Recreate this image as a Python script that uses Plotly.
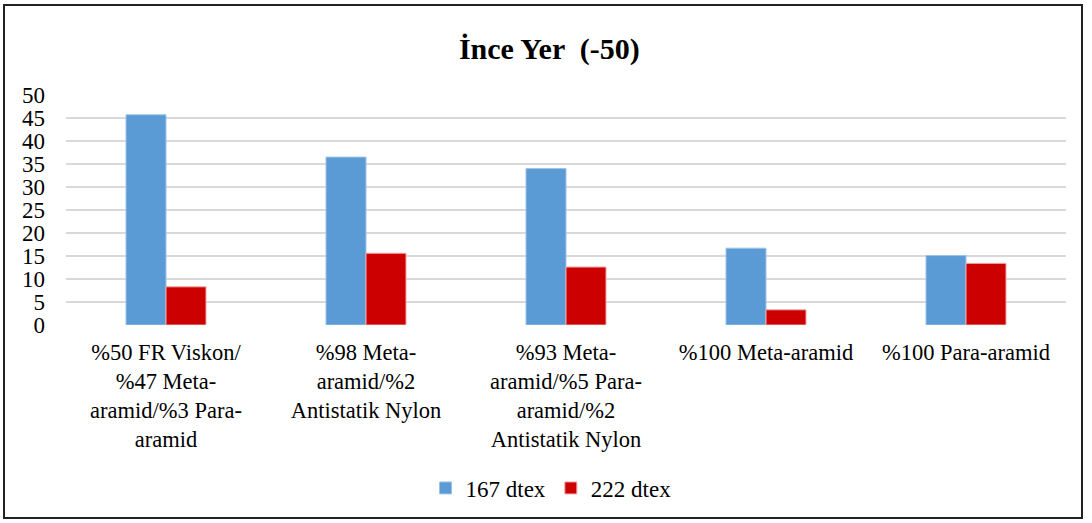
import plotly.graph_objects as go

categories = [
    "%50 FR Viskon/<br>%47 Meta-<br>aramid/%3 Para-<br>aramid",
    "%98 Meta-<br>aramid/%2<br>Antistatik Nylon",
    "%93 Meta-<br>aramid/%5 Para-<br>aramid/%2<br>Antistatik Nylon",
    "%100 Meta-aramid",
    "%100 Para-aramid",
]
series_names = ["167 dtex", "222 dtex"]
values_167 = [45.7, 36.5, 34.0, 16.7, 15.1]
values_222 = [8.3, 15.6, 12.6, 3.3, 13.4]
y_ticks = [0, 5, 10, 15, 20, 25, 30, 35, 40, 45, 50]

FONT = "Liberation Serif"

fig = go.Figure()
fig.add_trace(go.Bar(x=categories, y=values_167, name=series_names[0],
                     marker=dict(color="#5B9BD5", line=dict(color="#9DC3E6", width=1))))
fig.add_trace(go.Bar(x=categories, y=values_222, name=series_names[1],
                     marker=dict(color="#CC0000", line=dict(color="#F4A6A6", width=1))))

W, H = 1092, 523
L, R, T, B = 66, 26, 95, 198
pw, ph = W - L - R, H - T - B

def px_to_paper_x(px):
    return (px - L) / pw

def px_to_paper_y(py):
    return (H - B - py) / ph

fig.update_layout(
    width=W, height=H,
    margin=dict(l=L, r=R, t=T, b=B, autoexpand=False),
    paper_bgcolor="white", plot_bgcolor="white",
    barmode="group", bargap=0.6, bargroupgap=0,
    font=dict(family=FONT, color="#000000", size=22),
    title=dict(text="<b>İnce Yer  (-50)</b>", x=0.503, xanchor="center",
               y=1 - 48 / H, yanchor="middle",
               font=dict(family=FONT, size=30, color="#000000")),
    showlegend=True,
    legend=dict(orientation="h", x=0.485, xanchor="center",
                y=px_to_paper_y(488), yanchor="middle",
                font=dict(family=FONT, size=23, color="#000000"),
                itemwidth=30, tracegroupgap=0),
    xaxis=dict(showgrid=False, showline=False, ticks="",
               tickfont=dict(family=FONT, size=22.5, color="#000000"),
               ticklabelstandoff=11),
    yaxis=dict(range=[0, 50], tickvals=y_ticks, showgrid=True,
               gridcolor="#D9D9D9", gridwidth=1.5, zeroline=False,
               showline=False, ticks="",
               tickfont=dict(family=FONT, size=23, color="#000000"),
               ticklabelstandoff=20),
    shapes=[dict(type="rect", xref="paper", yref="paper",
                 x0=px_to_paper_x(4), x1=px_to_paper_x(1082),
                 y0=px_to_paper_y(518), y1=px_to_paper_y(5),
                 line=dict(color="#222222", width=2), fillcolor="rgba(0,0,0,0)",
                 layer="below")],
)

fig.write_html("out.html", config={"displayModeBar": False},
               post_script="document.body.style.margin='0px';document.body.style.overflow='hidden';")
